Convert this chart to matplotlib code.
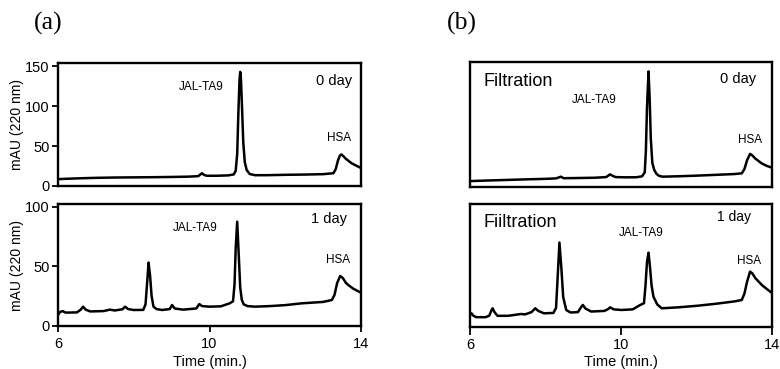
import matplotlib
matplotlib.use("Agg")
import matplotlib.pyplot as plt

plt.rcParams['font.family'] = ['Liberation Sans', 'DejaVu Sans']

# ---------------- data ----------------
# (a) 0 day
t_a0 = [6.05, 6.5, 7.0, 7.5, 8.0, 8.5, 9.0, 9.44, 9.70, 9.76, 9.80, 9.85, 9.92, 10.2, 10.5,
        10.64, 10.69, 10.73, 10.76, 10.79, 10.81, 10.83, 10.86, 10.89, 10.93, 10.98, 11.06,
        11.2, 11.5, 12.0, 12.5, 13.0, 13.27, 13.33, 13.39, 13.44, 13.48, 13.53, 13.6, 13.75,
        13.85, 14.0]
v_a0 = [8.7, 9.5, 10.2, 10.6, 10.8, 11.0, 11.3, 11.7, 12.3, 14.5, 16.0, 14.0, 12.8, 12.8, 13.3,
        14.5, 19, 40, 90, 132, 143, 133, 95, 55, 30, 20, 15,
        13.5, 13.5, 14.0, 14.3, 14.8, 16.0, 21, 32, 38, 39.5, 37.5, 34, 28.5,
        26, 22.5]

# (a) 1 day
t_a1 = [6.0, 6.05, 6.12, 6.2, 6.5, 6.6, 6.66, 6.73, 6.85, 7.2, 7.37, 7.5, 7.7, 7.77, 7.85, 8.0,
        8.25, 8.31, 8.35, 8.39, 8.43, 8.47, 8.52, 8.6, 8.75, 8.95, 9.01, 9.08, 9.3, 9.65, 9.73,
        9.8, 10.0, 10.3, 10.53, 10.62, 10.66, 10.69, 10.73, 10.77, 10.81, 10.85, 10.9, 11.0,
        11.2, 11.6, 12.0, 12.43, 13.0, 13.23, 13.3, 13.37, 13.45, 13.52, 13.6, 13.67, 13.8, 14.0]
v_a1 = [9.0, 11.5, 12.3, 11.0, 11.2, 13.5, 16.0, 13.5, 12.0, 12.3, 13.5, 12.8, 13.8, 16.0, 14.0, 13.2,
        13.3, 18, 35, 53, 42, 25, 16, 14, 13.2, 14.0, 17.4, 14.5, 13.5, 14.5, 18.2,
        16.5, 16.0, 16.3, 18.8, 20.5, 35, 65, 87.4, 60, 32, 22, 18, 16.5,
        16.0, 16.5, 17.3, 18.8, 20.0, 21.6, 26, 36, 41.8, 40, 36, 34, 31, 27.7]

# (b) 0 day (filtration)
t_b0 = [6.0, 6.5, 7.0, 7.5, 8.0, 8.27, 8.34, 8.40, 8.47, 8.8, 9.3, 9.60, 9.66, 9.70, 9.75, 9.85,
        10.1, 10.4, 10.55, 10.62, 10.65, 10.68, 10.72, 10.75, 10.78, 10.82, 10.87, 10.93, 11.0,
        11.1, 11.5, 12.0, 12.5, 13.0, 13.19, 13.26, 13.33, 13.41, 13.47, 13.55, 13.72, 13.85, 14.0]
v_b0 = [7.0, 7.8, 8.5, 9.2, 9.8, 10.4, 11.5, 12.5, 10.6, 10.8, 11.2, 12.0, 14.0, 15.4, 14.0, 12.0,
        11.7, 11.8, 13.0, 18, 45, 100, 143.7, 110, 60, 30, 21, 16, 13.5,
        12.5, 13.0, 13.8, 14.8, 15.8, 16.7, 22, 33, 40.9, 39, 35, 29, 26, 23.5]

# (b) 1 day (filtration)
t_b1 = [6.0, 6.03, 6.08, 6.15, 6.4, 6.5, 6.56, 6.59, 6.64, 6.72, 7.0, 7.34, 7.45, 7.62, 7.72, 7.8,
        7.95, 8.2, 8.27, 8.31, 8.36, 8.41, 8.46, 8.54, 8.65, 8.85, 8.93, 8.98, 9.05, 9.2, 9.55,
        9.65, 9.70, 9.8, 10.0, 10.3, 10.50, 10.60, 10.64, 10.68, 10.72, 10.76, 10.80, 10.85,
        10.95, 11.07, 11.5, 12.0, 12.5, 13.0, 13.19, 13.26, 13.33, 13.41, 13.47, 13.55, 13.72,
        13.85, 14.0]
v_b1 = [10.5, 11.5, 9.5, 8.3, 8.2, 9.5, 14, 15.7, 12.5, 9.4, 9.4, 10.9, 10.6, 12.5, 15.7, 13.5,
        11.5, 11.8, 16, 40, 70.9, 50, 25, 14.3, 12.2, 12.5, 16.5, 18.5, 15.5, 13, 13.5,
        15, 16.5, 14.8, 14.3, 14.8, 18.5, 20, 35, 55, 62.4, 50, 35, 25.5,
        19, 15.7, 16.5, 17.8, 19.5, 21.5, 22.7, 28, 38, 46.5, 45, 41, 35.3, 32, 28.3]

x_ticks = [6, 10, 14]
y_ticks_top = [0, 50, 100, 150]
y_ticks_bottom = [0, 50, 100]
y_label = "mAU (220 nm)"
x_label = "Time (min.)"
panel_labels = ["(a)", "(b)"]

# ---------------- figure ----------------
fig = plt.figure(figsize=(7.8, 3.69), dpi=100)

ax_a0 = fig.add_axes([0.0744, 0.496, 0.3885, 0.333])
ax_a1 = fig.add_axes([0.0744, 0.1173, 0.3885, 0.329])
ax_b0 = fig.add_axes([0.603, 0.494, 0.3872, 0.337])
ax_b1 = fig.add_axes([0.603, 0.1138, 0.3872, 0.3325])

lw = 1.8
for ax, t, v in [(ax_a0, t_a0, v_a0), (ax_a1, t_a1, v_a1),
                 (ax_b0, t_b0, v_b0), (ax_b1, t_b1, v_b1)]:
    ax.plot(t, v, color='black', lw=lw, solid_joinstyle='round')
    ax.set_xlim(6, 14)
    for s in ax.spines.values():
        s.set_linewidth(1.7)
    ax.tick_params(axis='both', direction='out', width=1.3, labelsize=10.5,
                   length=4, pad=2)

ax_a0.set_ylim(0, 154)
ax_b0.set_ylim(0, 155)
ax_a1.set_ylim(0, 102)
ax_b1.set_ylim(0, 103)

# (a) axes ticks
ax_a0.set_yticks(y_ticks_top)
ax_a0.set_xticks([])
ax_a1.set_yticks(y_ticks_bottom)
ax_a1.set_xticks(x_ticks)
ax_a1.tick_params(axis='x', pad=4)
ax_a0.set_ylabel(y_label, fontsize=10, labelpad=1)
ax_a1.set_ylabel(y_label, fontsize=10, labelpad=1)
ax_a1.set_xlabel(x_label, fontsize=10.5, labelpad=3)

# (b) axes ticks
ax_b0.set_yticks([])
ax_b0.set_xticks([])
ax_b1.set_yticks([])
ax_b1.set_xticks(x_ticks)
ax_b1.tick_params(axis='x', length=6, pad=2)
ax_b1.set_xlabel(x_label, fontsize=10.5, labelpad=2)

# annotations
ax_a0.text(9.77, 124, "JAL-TA9", fontsize=8.5, ha='center', va='center')
ax_a0.text(13.28, 131.6, "0 day", fontsize=10.5, ha='center', va='center')
ax_a0.text(13.43, 59.6, "HSA", fontsize=8.5, ha='center', va='center')

ax_a1.text(9.63, 81.8, "JAL-TA9", fontsize=8.5, ha='center', va='center')
ax_a1.text(13.16, 90, "1 day", fontsize=10.5, ha='center', va='center')
ax_a1.text(13.38, 55, "HSA", fontsize=8.5, ha='center', va='center')

ax_b0.text(7.26, 131, "Filtration", fontsize=13, ha='center', va='center')
ax_b0.text(9.28, 108, "JAL-TA9", fontsize=8.5, ha='center', va='center')
ax_b0.text(13.09, 134.6, "0 day", fontsize=10.5, ha='center', va='center')
ax_b0.text(13.42, 58.4, "HSA", fontsize=8.5, ha='center', va='center')

ax_b1.text(7.31, 88, "Fiiltration", fontsize=13, ha='center', va='center')
ax_b1.text(10.53, 79.3, "JAL-TA9", fontsize=8.5, ha='center', va='center')
ax_b1.text(12.99, 92.7, "1 day", fontsize=10, ha='center', va='center')
ax_b1.text(13.38, 55.7, "HSA", fontsize=8.5, ha='center', va='center')

fig.text(48 / 780, 1 - 23 / 369, panel_labels[0], fontsize=18.5,
         family=['Liberation Serif', 'DejaVu Serif'], ha='center', va='center')
fig.text(462 / 780, 1 - 23 / 369, panel_labels[1], fontsize=18.5,
         family=['Liberation Serif', 'DejaVu Serif'], ha='center', va='center')

fig.savefig("out.png", dpi=100)
